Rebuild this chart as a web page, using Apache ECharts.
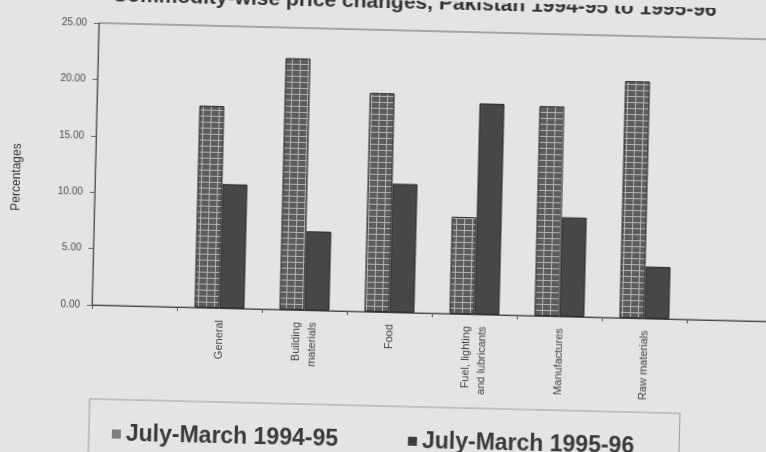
<!DOCTYPE html>
<html>
<head>
<meta charset="utf-8">
<script src="https://cdn.jsdelivr.net/npm/echarts@6/dist/echarts.min.js"></script>
<style>
  html, body { margin: 0; padding: 0; width: 766px; height: 452px; overflow: hidden; background: #e4e4e6; }
  /* the printed page sits slightly askew */
  #chart { width: 800px; height: 470px; transform: rotate(1.4deg); transform-origin: 383px 226px; }
</style>
</head>
<body>
<div id="chart"></div>
<script>
// Commodity groups (blank slots pad both ends of the axis)
const categories = ['', 'General', 'Building\nmaterials', 'Food', 'Fuel, lighting\nand lubricants', 'Manufactures', 'Raw materials', ''];
const seriesNames = ['July-March 1994-95', 'July-March 1995-96'];
// Percentage price change per group
const change9495 = ['-', 17.9, 22.3, 19.4, 8.6, 18.6, 21.0, '-'];
const change9596 = ['-', 11.0, 7.0, 11.4, 18.7, 8.8, 4.6, '-'];
// Value axis ticks
const yMin = 0, yMax = 25, yStep = 5;
const chartTitle = 'Commodity-wise price changes, Pakistan 1994-95 to 1995-96';
const axisTitle = 'Percentages';

const FONT = "'Liberation Sans', Arial, sans-serif";

// cross-hatched fill for the first period's bars
function hatchTile() {
  const c = document.createElement('canvas');
  c.width = 8; c.height = 6;
  const g = c.getContext('2d');
  g.fillStyle = '#5c5c5c';
  g.fillRect(0, 0, 8, 6);
  g.fillStyle = '#b2b2b2';
  g.fillRect(0, 0, 8, 1);
  g.fillRect(0, 0, 1, 6);
  return c;
}

const chart = echarts.init(document.getElementById('chart'), null, { renderer: 'canvas' });

chart.setOption({
  backgroundColor: '#e4e4e6',
  animation: false,
  textStyle: { fontFamily: FONT },
  title: {
    text: chartTitle,
    left: 404,
    top: -13,
    textAlign: 'center',
    textStyle: { fontFamily: FONT, fontWeight: 'bold', fontSize: 21, color: '#333' }
  },
  grid: {
    left: 94, top: 30, right: 26, bottom: 158,
    show: true, borderColor: '#666', borderWidth: 1, backgroundColor: 'transparent'
  },
  legend: {
    left: 94, top: 406,
    padding: [23, 45, 40, 23],
    itemWidth: 9, itemHeight: 9, itemGap: 70,
    icon: 'rect',
    borderColor: '#9c9c9c', borderWidth: 1,
    textStyle: { fontFamily: FONT, fontWeight: 'bold', fontSize: 23, color: '#3a3a3a' },
    data: [
      { name: seriesNames[0], itemStyle: { color: '#7e7e7e', borderWidth: 0 } },
      { name: seriesNames[1], itemStyle: { color: '#3c3c3c', borderWidth: 0 } }
    ]
  },
  xAxis: {
    type: 'category',
    data: categories,
    axisLine: { lineStyle: { color: '#444', width: 1 } },
    axisTick: { show: true, length: 4, interval: 0, lineStyle: { color: '#555' } },
    axisLabel: {
      interval: 0, rotate: 90, margin: 12,
      fontFamily: FONT, fontSize: 11, lineHeight: 16, color: '#444',
      padding: [0, 0, 18, 0]
    },
    splitLine: { show: false }
  },
  yAxis: {
    type: 'value',
    min: yMin, max: yMax, interval: yStep,
    name: axisTitle,
    nameLocation: 'middle',
    nameGap: 72,
    nameTextStyle: { fontFamily: FONT, fontSize: 12, color: '#333', padding: [0, 30, 0, 0] },
    axisLine: { show: true, lineStyle: { color: '#555', width: 1 } },
    axisTick: { show: true, length: 5, lineStyle: { color: '#666' } },
    axisLabel: {
      margin: 12, fontFamily: FONT, fontSize: 10, color: '#4e4e4e',
      formatter: v => v.toFixed(2)
    },
    splitLine: { show: false }
  },
  series: [
    {
      name: seriesNames[0],
      type: 'bar',
      data: change9495,
      barWidth: 25,
      barGap: '0%',
      itemStyle: { color: { image: hatchTile(), repeat: 'repeat' }, borderColor: '#2e2e2e', borderWidth: 1 }
    },
    {
      name: seriesNames[1],
      type: 'bar',
      data: change9596,
      barWidth: 25,
      barGap: '0%',
      itemStyle: { color: '#474747', borderColor: '#2a2a2a', borderWidth: 1 }
    }
  ]
});
</script>
</body>
</html>
